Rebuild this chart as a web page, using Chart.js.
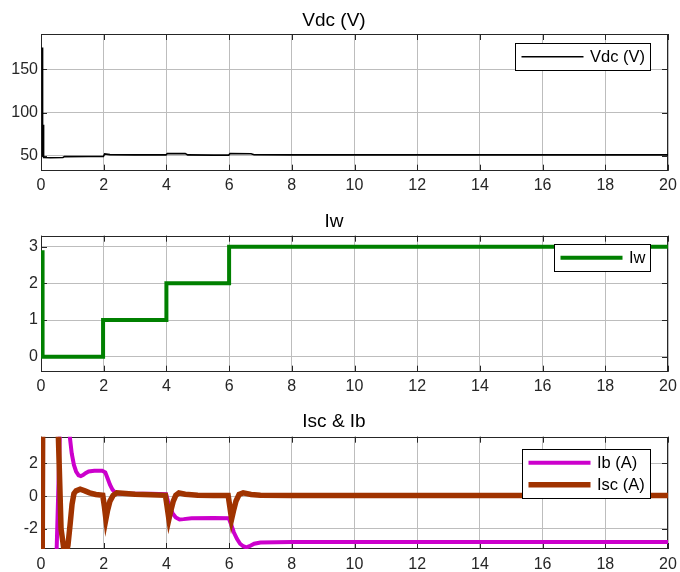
<!DOCTYPE html>
<html>
<head>
<meta charset="utf-8">
<script src="https://cdn.jsdelivr.net/npm/chart.js@4.4.1/dist/chart.umd.min.js"></script>
<style>
  html, body { margin: 0; padding: 0; background: #ffffff; }
  #wrap { position: relative; width: 680px; height: 572px; overflow: hidden; background: #ffffff; }
  canvas { position: absolute; left: 0; }
</style>
</head>
<body>
<div id="wrap">
  <canvas id="cVdc" width="680" height="195" style="top:0px"></canvas>
  <canvas id="cIw" width="680" height="198" style="top:195px"></canvas>
  <canvas id="cCur" width="680" height="179" style="top:393px"></canvas>
</div>
<script>
// ---- time axis (s) ----
const timeTicks = [0, 2, 4, 6, 8, 10, 12, 14, 16, 18, 20];

// ---- DC link voltage ----
const vdcTime   = [0.04, 0.05, 0.065, 0.075, 0.09, 0.3, 0.7, 0.75, 1.5, 1.99, 2.03, 2.2, 3.0, 3.99, 4.03, 4.6, 4.68, 5.5, 5.99, 6.03, 6.7, 6.8, 8, 10, 12, 14, 16, 18, 20];
const vdcValues = [175, 49, 86, 49, 48.3, 48.0, 48.2, 49.2, 49.3, 49.3, 52.3, 51.5, 51.3, 51.3, 52.8, 52.7, 51.2, 51.0, 51.0, 52.8, 52.6, 51.4, 51.3, 51.2, 51.2, 51.2, 51.2, 51.2, 51.2];
const vdcTicks  = [50, 100, 150];

// ---- wind current reference ----
const iwTime   = [0.05, 0.05, 1.98, 1.98, 4, 4, 6, 6, 20];
const iwValues = [2.9, 0, 0, 1, 1, 2, 2, 3, 3];
const iwTicks  = [0, 1, 2, 3];

// ---- battery current ----
const ibTime   = [0, 0.44, 0.5, 0.6, 0.65, 0.85, 0.92, 0.98, 1.05, 1.12, 1.2, 1.27, 1.34, 1.42, 1.52, 1.7, 1.95, 2.05, 2.12, 2.2, 2.28, 2.36, 2.5, 3.0, 3.5, 3.99, 4.05, 4.12, 4.2, 4.3, 4.42, 4.55, 4.8, 5.5, 5.99, 6.06, 6.15, 6.25, 6.35, 6.45, 6.55, 6.65, 6.8, 7.0, 8, 20];
const ibValues = [-8, -8, -3.2, 3.7, 6, 6, 3.6, 2.6, 1.9, 1.5, 1.27, 1.22, 1.28, 1.4, 1.5, 1.55, 1.55, 1.45, 1.1, 0.7, 0.4, 0.22, 0.15, 0.15, 0.15, 0.12, -0.3, -0.7, -1.05, -1.3, -1.42, -1.4, -1.35, -1.33, -1.35, -1.7, -2.2, -2.6, -2.9, -3.05, -3.12, -3.05, -2.9, -2.82, -2.8, -2.8];

// ---- supercapacitor current ----
const iscTime   = [0.03, 0.06, 0.45, 0.555, 0.64, 0.72, 0.79, 0.86, 0.93, 0.99, 1.05, 1.12, 1.25, 1.4, 1.55, 1.75, 1.97, 2.02, 2.07, 2.12, 2.2, 2.3, 2.42, 2.6, 3.0, 3.5, 3.97, 4.02, 4.08, 4.14, 4.22, 4.3, 4.4, 4.6, 5.0, 5.5, 5.97, 6.02, 6.08, 6.14, 6.22, 6.32, 6.45, 6.7, 7.0, 8, 20];
const iscValues = [-8, 8, 8, 3.6, -2.0, -3.1, -3.6, -3.0, -1.7, -0.5, 0.15, 0.32, 0.42, 0.32, 0.2, 0.1, 0.05, -0.6, -1.4, -0.9, -0.3, 0.05, 0.2, 0.18, 0.12, 0.08, 0.05, -0.6, -1.4, -0.9, -0.3, 0.05, 0.2, 0.12, 0.06, 0.04, 0.04, -0.6, -1.4, -0.9, -0.3, 0.1, 0.2, 0.1, 0.05, 0.04, 0.04];
const currTicks = [-2, 0, 2];

const FONT = '"Liberation Sans", Arial, Helvetica, sans-serif';
const AXIS = '#262626';
const GRID = '#bdbdbd';

function pts(xs, ys) { return xs.map((x, i) => ({ x: x, y: ys[i] })); }

// Boxed axes with inward tick marks, plus a framed legend inside the plot.
const axesFrame = {
  id: 'axesFrame',
  beforeDatasetsDraw(chart) {
    const { ctx, chartArea: a, scales } = chart;
    const L = 6;
    ctx.save();
    ctx.strokeStyle = AXIS;
    ctx.lineWidth = 1;
    ctx.beginPath();
    scales.x.ticks.forEach(t => {
      const px = Math.round(scales.x.getPixelForValue(t.value)) + 0.5;
      ctx.moveTo(px, a.bottom); ctx.lineTo(px, a.bottom - L);
      ctx.moveTo(px, a.top); ctx.lineTo(px, a.top + L);
    });
    scales.y.ticks.forEach(t => {
      const py = Math.round(scales.y.getPixelForValue(t.value)) + 0.5;
      ctx.moveTo(a.left, py); ctx.lineTo(a.left + L, py);
      ctx.moveTo(a.right, py); ctx.lineTo(a.right - L, py);
    });
    ctx.stroke();
    ctx.strokeRect(Math.round(a.left) + 0.5, Math.round(a.top) + 0.5,
                   Math.round(a.right - a.left) - 1, Math.round(a.bottom - a.top) - 1);
    ctx.restore();
  },
  afterDraw(chart) {
    const o = chart.options.plugins.axesFrame;
    const { ctx, chartArea: a } = chart;
    const ds = chart.data.datasets;
    ctx.save();
    ctx.font = '16.5px ' + FONT;
    const textW = Math.max(...ds.map(d => ctx.measureText(d.label).width));
    const padL = 6, lineLen = 62, gap = 6.5, padR = 5.5, padT = 2.3, rowH = 22;
    const w = padL + lineLen + gap + textW + padR;
    const h = padT * 2 + rowH * ds.length;
    const right = a.right - o.right;
    const left = Math.round(right - w) + 0.5;
    const top = Math.round(a.top + o.top) + 0.5;
    ctx.fillStyle = '#ffffff';
    ctx.fillRect(left, top, right - left, h);
    ctx.strokeStyle = '#000000';
    ctx.lineWidth = 1;
    ctx.strokeRect(left, top, Math.round(right - left), Math.round(h));
    ds.forEach((d, i) => {
      const y = top + padT + rowH * (i + 0.5);
      ctx.strokeStyle = d.borderColor;
      ctx.lineWidth = d.borderWidth;
      ctx.beginPath();
      ctx.moveTo(left + padL, y);
      ctx.lineTo(left + padL + lineLen, y);
      ctx.stroke();
      ctx.fillStyle = '#000000';
      ctx.textBaseline = 'middle';
      ctx.textAlign = 'left';
      ctx.fillText(d.label, left + padL + lineLen + gap, y + 0.5);
    });
    ctx.restore();
  }
};

function makeChart(id, cfg) {
  return new Chart(document.getElementById(id), {
    type: 'line',
    data: { datasets: cfg.datasets },
    options: {
      responsive: false,
      animation: false,
      devicePixelRatio: 1,
      layout: { padding: { left: 0, right: 12, top: 0, bottom: 0 } },
      elements: { point: { radius: 0 }, line: { tension: 0 } },
      plugins: {
        legend: { display: false },
        tooltip: { enabled: false },
        title: {
          display: true,
          text: cfg.title,
          color: '#000000',
          font: { family: FONT, size: 19, weight: 'normal', lineHeight: 1.2 },
          padding: { top: cfg.titleTop, bottom: cfg.titleBottom }
        },
        axesFrame: { top: cfg.legendTop, right: 18 }
      },
      scales: {
        x: {
          type: 'linear',
          min: 0, max: 20,
          afterBuildTicks: s => { s.ticks = timeTicks.map(v => ({ value: v })); },
          afterFit: s => { s.height = cfg.xAxisH; s.paddingLeft = 0; s.paddingRight = 0; },
          grid: { color: GRID, drawTicks: false },
          border: { display: false },
          ticks: { autoSkip: false, maxRotation: 0, padding: 5.5, color: AXIS,
                   font: { family: FONT, size: 16 } }
        },
        y: {
          type: 'linear',
          min: cfg.yMin, max: cfg.yMax,
          afterBuildTicks: s => { s.ticks = cfg.yTicks.map(v => ({ value: v })); },
          afterFit: s => { s.width = 41; },
          grid: { color: GRID, drawTicks: false },
          border: { display: false },
          ticks: { padding: 3, color: AXIS, font: { family: FONT, size: 16 } }
        }
      }
    },
    plugins: [axesFrame]
  });
}

makeChart('cVdc', {
  title: 'Vdc (V)',
  titleTop: 9.4, titleBottom: 1.8,
  xAxisH: 24.3,
  yMin: 33, yMax: 190.7, yTicks: vdcTicks,
  legendTop: 8.7,
  datasets: [
    { label: 'Vdc (V)', data: pts(vdcTime, vdcValues), borderColor: '#000000',
      borderWidth: 1.6, clip: 0 }
  ]
});

makeChart('cIw', {
  title: 'Iw',
  titleTop: 15.3, titleBottom: 2.6,
  xAxisH: 21.3,
  yMin: -0.41, yMax: 3.3, yTicks: iwTicks,
  legendTop: 8.6,
  datasets: [
    { label: 'Iw', data: pts(iwTime, iwValues), borderColor: '#008000',
      borderWidth: 4, clip: 0 }
  ]
});

makeChart('cCur', {
  title: 'Isc & Ib',
  titleTop: 17.8, titleBottom: 3.1,
  xAxisH: 23,
  yMin: -3.22, yMax: 3.62, yTicks: currTicks,
  legendTop: 12.3,
  datasets: [
    { label: 'Ib (A)', data: pts(ibTime, ibValues), borderColor: '#CC00CC',
      borderWidth: 4, clip: 0, order: 1 },
    { label: 'Isc (A)', data: pts(iscTime, iscValues), borderColor: '#A03300',
      borderWidth: 5.5, clip: 0, order: 0 }
  ]
});
</script>
</body>
</html>
